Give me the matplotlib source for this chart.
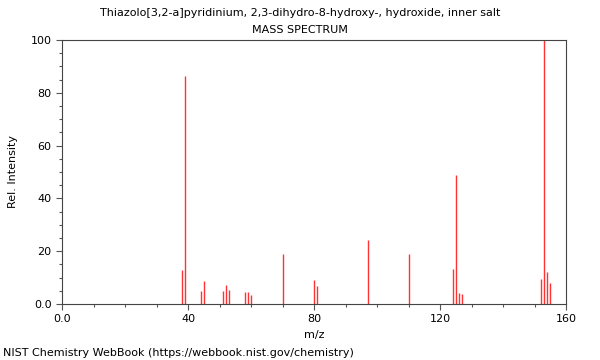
import matplotlib
matplotlib.use("Agg")
from matplotlib import pyplot as plt
from matplotlib.ticker import MultipleLocator

# Peak data
mz = [38, 39, 44, 45, 51, 52, 53, 58, 59, 60, 70, 80, 81, 97, 110,
      124, 125, 126, 127, 152, 153, 154, 155]
intensity = [12.9, 86.3, 4.9, 8.8, 4.9, 7.2, 5.2, 4.5, 4.5, 3.4, 18.8, 9.1, 6.8, 24.2, 19.0,
             13.2, 49.0, 4.0, 3.7, 9.5, 100.0, 12.0, 8.0]

x_ticks = [0, 40, 80, 120, 160]
x_labels = ["0.0", "40", "80", "120", "160"]
y_ticks = [0, 20, 40, 60, 80, 100]
y_labels = ["0.0", "20", "40", "60", "80", "100"]

fig = plt.figure(figsize=(6, 3.6), dpi=100)
ax = fig.add_axes([62 / 600, 56 / 360, 504 / 600, 264 / 360])

ax.vlines(mz, 0, intensity, colors="#ff3333", linewidth=1.0)

ax.set_xlim(0, 160)
ax.set_ylim(0, 100)
ax.set_xticks(x_ticks)
ax.set_xticklabels(x_labels)
ax.set_yticks(y_ticks)
ax.set_yticklabels(y_labels)
ax.xaxis.set_minor_locator(MultipleLocator(10))
ax.yaxis.set_minor_locator(MultipleLocator(5))
ax.tick_params(which="major", direction="out", length=4, width=0.8,
               color="#555555", labelsize=8)
ax.tick_params(which="minor", direction="out", length=2.5, width=0.8, color="#555555")

for s in ax.spines.values():
    s.set_color("#444444")
    s.set_linewidth(0.8)

ax.set_xlabel("m/z", fontsize=8)
ax.set_ylabel("Rel. Intensity", fontsize=8)
ax.yaxis.set_label_coords(-44 / 504, 0.5)

fig.text(0.5, 1 - 13 / 360, "Thiazolo[3,2-a]pyridinium, 2,3-dihydro-8-hydroxy-, hydroxide, inner salt",
         ha="center", va="center", fontsize=8)
fig.text(0.5, 1 - 30 / 360, "MASS SPECTRUM", ha="center", va="center", fontsize=8)
fig.text(3 / 600, 1 - 353 / 360, "NIST Chemistry WebBook (https://webbook.nist.gov/chemistry)",
         ha="left", va="center", fontsize=8)

fig.savefig("out.png", dpi=100)
